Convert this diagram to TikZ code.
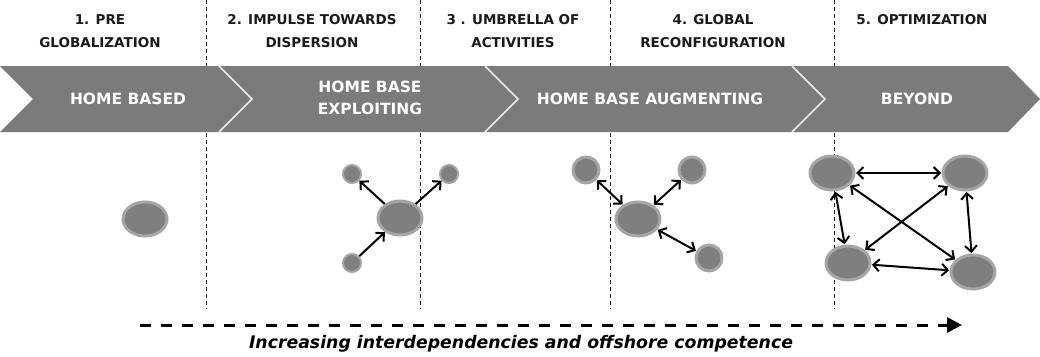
\documentclass[tikz,border=0pt]{standalone}
\usepackage{fontspec}
\setmainfont{DejaVu Sans}
\usetikzlibrary{arrows.meta,shapes.geometric}
\definecolor{bandgray}{HTML}{7B7B7B}
\definecolor{blobfill}{HTML}{7F7F7F}
\definecolor{blobedge}{HTML}{A5A5A5}
\definecolor{inkdark}{HTML}{1A1A1A}
\tikzset{
  hdr/.style={font=\fontsize{13.5}{23}\selectfont\bfseries, text=inkdark, align=center, inner sep=0},
  bandtxt/.style={font=\fontsize{15.5}{22}\selectfont\bfseries, text=white, align=center, inner sep=0},
  sepline/.style={draw=inkdark, line width=0.8pt, dash pattern=on 4pt off 3pt},
  chev/.style={draw=white!92!black, line width=1.6pt},
  blob/.style={fill=blobfill, draw=blobedge, inner sep=0},
  bigblob/.style={blob, ellipse, line width=3pt, minimum width=44pt, minimum height=34pt},
  tinyblob/.style={blob, circle, line width=2pt, minimum size=18pt},
  midblob/.style={blob, circle, line width=3pt, minimum size=26pt},
  barb/.tip={Straight Barb[length=6pt,width=12pt,line width=2pt]},
  oneway/.style={draw=black, line width=2pt, -barb},
  twoway/.style={draw=black, line width=2pt, barb-barb, shorten <=0.5pt, shorten >=0.5pt},
}
\begin{document}
\begin{tikzpicture}[x=1pt,y=-1pt]
\useasboundingbox (0,0) rectangle (1040,356);
\fill[white] (0,0) rectangle (1040,356);

% stage separators
\foreach \xx in {206,420,610,834}{
  \draw[sepline] (\xx,0) -- (\xx,309);
}

% band
\fill[bandgray] (0,66) -- (1008,66) -- (1040,99) -- (1008,132) -- (0,132) -- (33,99) -- cycle;
\draw[chev] (219,66) -- (252,99) -- (219,132);
\draw[chev] (485,66) -- (518,99) -- (485,132);
\draw[chev] (792,66) -- (825,99) -- (792,132);

% headers
\node[hdr] (h1) at (100,31.5) {1. PRE\\GLOBALIZATION};
\node[hdr] (h2) at (312,31.5) {2. IMPULSE TOWARDS\\DISPERSION};
\node[hdr] (h3) at (513,31.5) {3 . UMBRELLA OF\\ACTIVITIES};
\node[hdr] (h4) at (713,31.5) {4. GLOBAL\\RECONFIGURATION};
\node[hdr] (h5) at (922,20) {5. OPTIMIZATION};

% band labels
\node[bandtxt] (b1) at (128,99) {HOME BASED};
\node[bandtxt] (b2) at (370,97.5) {HOME BASE\\EXPLOITING};
\node[bandtxt] (b3) at (650,99) {HOME BASE AUGMENTING};
\node[bandtxt] (b4) at (917,99) {BEYOND};

% stage 1
\node[bigblob] (s1) at (145,219) {};

% stage 2
\node[bigblob] (s2c) at (400,218) {};
\node[tinyblob] (s2a) at (352,174) {};
\node[tinyblob] (s2b) at (449,174) {};
\node[tinyblob] (s2d) at (352,263) {};
\draw[oneway] (s2c) -- (s2a);
\draw[oneway] (s2c) -- (s2b);
\draw[oneway] (s2d) -- (s2c);

% stage 3/4
\node[bigblob] (s4c) at (638,219) {};
\node[midblob] (s4a) at (586,170) {};
\node[midblob] (s4b) at (692,170) {};
\node[midblob] (s4d) at (709,258) {};
\draw[twoway] (s4a) -- (s4c);
\draw[twoway] (s4b) -- (s4c);
\draw[twoway] (s4c) -- (s4d);

% stage 5
\node[bigblob] (tl) at (832,173) {};
\node[bigblob] (tr) at (965,173) {};
\node[bigblob] (bl) at (848,263) {};
\node[bigblob] (br) at (973,272) {};
\draw[twoway] (tl) -- (tr);
\draw[twoway] (tl) -- (bl);
\draw[twoway] (tl) -- (br);
\draw[twoway] (tr) -- (bl);
\draw[twoway] (tr) -- (br);
\draw[twoway] (bl) -- (br);

% trend arrow
\coordinate (trendS) at (140,325);
\coordinate (trendE) at (962,325);
\draw[line width=3pt, dash pattern=on 11pt off 10pt, -{Triangle[length=15pt,width=15pt]}] (trendS) -- (trendE);
\node[font=\fontsize{17.3}{20}\selectfont\bfseries\itshape, text=black, inner sep=0] (trendtxt) at (521,344) {Increasing interdependencies and offshore competence};
\end{tikzpicture}
\end{document}
